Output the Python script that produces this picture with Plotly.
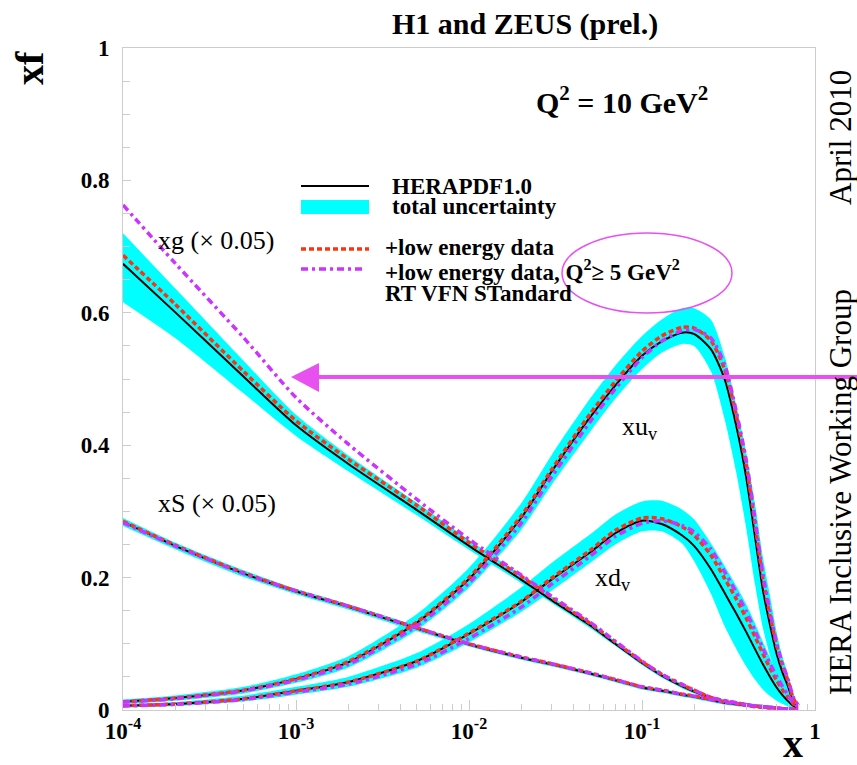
import plotly.graph_objects as go

# ---------------------------------------------------------------
# HERAPDF1.0 parton densities at Q^2 = 10 GeV^2
# ---------------------------------------------------------------
x_grid = [1e-4, 2e-4, 5e-4, 1e-3, 2e-3, 5e-3, 0.01, 0.02, 0.03, 0.05, 0.07,
          0.1, 0.13, 0.17, 0.2, 0.25, 0.3, 0.35, 0.4, 0.45, 0.5, 0.55, 0.6,
          0.65, 0.7, 0.75, 0.8]

# gluon (scaled by 0.05)
xg_central = [0.674, 0.601, 0.503, 0.430, 0.372, 0.302, 0.248, 0.197, 0.166, 0.128, 0.100,
              0.071, 0.052, 0.036, 0.028, 0.018, 0.013, 0.010, 0.008, 0.006, 0.005, 0.004,
              0.003, 0.002, 0.002, 0.001, 0.000]
xg_lo = [0.616, 0.562, 0.478, 0.414, 0.361, 0.294, 0.242, 0.192, 0.162, 0.124, 0.097,
         0.068, 0.049, 0.033, 0.025, 0.015, 0.010, 0.007, 0.005, 0.003, 0.002, 0.001,
         0.001, 0.000, 0.000, 0.000, 0.000]
xg_hi = [0.720, 0.637, 0.527, 0.446, 0.385, 0.313, 0.257, 0.204, 0.172, 0.133, 0.104,
         0.075, 0.056, 0.040, 0.031, 0.021, 0.016, 0.013, 0.011, 0.009, 0.008, 0.007,
         0.005, 0.004, 0.003, 0.002, 0.001]
xg_lowe = [0.687, 0.613, 0.511, 0.437, 0.379, 0.309, 0.253, 0.202, 0.170, 0.131, 0.103,
           0.073, 0.054, 0.038, 0.030, 0.019, 0.014, 0.011, 0.008, 0.006, 0.005, 0.004,
           0.003, 0.002, 0.002, 0.001, 0.000]
xg_q5 = [0.763, 0.675, 0.562, 0.472, 0.402, 0.318, 0.258, 0.204, 0.172, 0.133, 0.104,
         0.074, 0.054, 0.039, 0.030, 0.019, 0.014, 0.011, 0.008, 0.006, 0.005, 0.004,
         0.003, 0.002, 0.002, 0.001, 0.000]

# sea (scaled by 0.05)
xS_central = [0.284, 0.248, 0.206, 0.179, 0.156, 0.123, 0.099, 0.079, 0.069, 0.055, 0.045,
              0.034, 0.029, 0.023, 0.020, 0.015, 0.011, 0.009, 0.007, 0.005, 0.004, 0.003,
              0.003, 0.002, 0.001, 0.001, 0.000]
xS_lo = [0.278, 0.243, 0.201, 0.175, 0.152, 0.119, 0.096, 0.076, 0.066, 0.052, 0.042,
         0.031, 0.026, 0.020, 0.017, 0.012, 0.008, 0.006, 0.004, 0.003, 0.002, 0.001,
         0.001, 0.000, 0.000, 0.000, 0.000]
xS_hi = [0.290, 0.253, 0.211, 0.183, 0.160, 0.127, 0.102, 0.082, 0.072, 0.058, 0.048,
         0.037, 0.032, 0.026, 0.023, 0.018, 0.014, 0.012, 0.010, 0.008, 0.007, 0.006,
         0.005, 0.004, 0.003, 0.002, 0.001]
xS_lowe = [0.285, 0.249, 0.207, 0.180, 0.157, 0.124, 0.100, 0.080, 0.070, 0.056, 0.046,
           0.035, 0.030, 0.024, 0.021, 0.016, 0.012, 0.009, 0.007, 0.005, 0.004, 0.003,
           0.003, 0.002, 0.001, 0.001, 0.000]
xS_q5 = [0.283, 0.248, 0.206, 0.180, 0.157, 0.124, 0.100, 0.080, 0.070, 0.056, 0.046,
         0.035, 0.030, 0.024, 0.021, 0.016, 0.012, 0.010, 0.008, 0.006, 0.005, 0.004,
         0.003, 0.002, 0.001, 0.001, 0.000]

# u valence
xuv_central = [0.0125, 0.018, 0.030, 0.047, 0.072, 0.132, 0.198, 0.290, 0.360, 0.442, 0.490,
               0.535, 0.557, 0.570, 0.568, 0.545, 0.500, 0.430, 0.352, 0.262, 0.181, 0.128,
               0.085, 0.056, 0.035, 0.012, 0.004]
xuv_lo = [0.009, 0.014, 0.025, 0.041, 0.064, 0.121, 0.185, 0.272, 0.340, 0.420, 0.470,
          0.515, 0.540, 0.553, 0.550, 0.512, 0.440, 0.360, 0.275, 0.190, 0.124, 0.082,
          0.053, 0.031, 0.020, 0.008, 0.002]
xuv_hi = [0.016, 0.022, 0.035, 0.054, 0.081, 0.145, 0.215, 0.312, 0.385, 0.470, 0.520,
          0.565, 0.590, 0.607, 0.607, 0.590, 0.535, 0.462, 0.390, 0.312, 0.231, 0.172,
          0.118, 0.080, 0.053, 0.025, 0.009]
xuv_lowe = [0.0125, 0.018, 0.030, 0.047, 0.073, 0.133, 0.200, 0.293, 0.363, 0.447, 0.496,
            0.542, 0.565, 0.578, 0.577, 0.558, 0.515, 0.445, 0.370, 0.280, 0.198, 0.142,
            0.097, 0.066, 0.043, 0.017, 0.006]
xuv_q5 = [0.012, 0.017, 0.029, 0.045, 0.069, 0.127, 0.192, 0.282, 0.352, 0.435, 0.485,
          0.532, 0.557, 0.573, 0.575, 0.562, 0.522, 0.452, 0.378, 0.288, 0.205, 0.148,
          0.101, 0.069, 0.046, 0.019, 0.007]

# d valence
xdv_central = [0.0065, 0.009, 0.017, 0.029, 0.042, 0.074, 0.115, 0.163, 0.197, 0.238, 0.267,
               0.286, 0.281, 0.264, 0.248, 0.213, 0.177, 0.146, 0.118, 0.092, 0.069, 0.050,
               0.034, 0.022, 0.013, 0.006, 0.002]
xdv_lo = [0.004, 0.006, 0.013, 0.023, 0.035, 0.064, 0.102, 0.148, 0.180, 0.222, 0.250,
          0.270, 0.270, 0.252, 0.225, 0.176, 0.127, 0.093, 0.066, 0.046, 0.031, 0.021,
          0.014, 0.009, 0.005, 0.002, 0.001]
xdv_hi = [0.009, 0.012, 0.022, 0.035, 0.050, 0.086, 0.130, 0.185, 0.222, 0.265, 0.295,
          0.315, 0.316, 0.303, 0.288, 0.252, 0.218, 0.188, 0.160, 0.131, 0.103, 0.079,
          0.057, 0.038, 0.024, 0.011, 0.004]
xdv_lowe = [0.0065, 0.009, 0.017, 0.029, 0.042, 0.074, 0.116, 0.164, 0.199, 0.241, 0.271,
            0.290, 0.289, 0.277, 0.264, 0.234, 0.199, 0.168, 0.139, 0.111, 0.085, 0.063,
            0.045, 0.030, 0.019, 0.009, 0.003]
xdv_q5 = [0.006, 0.0085, 0.016, 0.027, 0.039, 0.069, 0.108, 0.155, 0.190, 0.232, 0.262,
          0.282, 0.286, 0.279, 0.269, 0.243, 0.209, 0.178, 0.149, 0.120, 0.093, 0.070,
          0.051, 0.035, 0.022, 0.011, 0.004]

x_tick_vals = [1e-4, 1e-3, 1e-2, 1e-1, 1]
x_tick_text = ["10<sup>-4</sup>", "10<sup>-3</sup>", "10<sup>-2</sup>", "10<sup>-1</sup>", "1"]
y_tick_vals = [0, 0.2, 0.4, 0.6, 0.8, 1.0]
y_tick_text = ["0", "0.2", "0.4", "0.6", "0.8", "1"]

# ---------------------------------------------------------------
W, H = 857, 765
L, R, T, B = 123, 42, 48, 55
PW, PH = W - L - R, H - T - B

def px(xp):
    return (xp - L) / PW

def py(yp):
    return (H - B - yp) / PH

SERIF = "Liberation Serif, Times New Roman, serif"
BAND = "#00ffff"
RED = "#ff3311"
MAG = "#cc33ff"
PINK = "#e850f0"
SPL = dict(shape="spline", smoothing=0.7)

fig = go.Figure()

bands = [(xg_lo, xg_hi), (xS_lo, xS_hi), (xuv_lo, xuv_hi), (xdv_lo, xdv_hi)]
for lo, hi in bands:
    fig.add_trace(go.Scatter(x=x_grid, y=lo, mode="lines",
                             line=dict(width=0, **SPL),
                             hoverinfo="skip", showlegend=False))
    fig.add_trace(go.Scatter(x=x_grid, y=hi, mode="lines", fill="tonexty",
                             fillcolor=BAND, line=dict(width=0, **SPL),
                             hoverinfo="skip", showlegend=False))

for c in [xg_central, xS_central, xuv_central, xdv_central]:
    fig.add_trace(go.Scatter(x=x_grid, y=c, mode="lines",
                             line=dict(color="black", width=2, **SPL),
                             showlegend=False))

for c in [xg_lowe, xS_lowe, xuv_lowe, xdv_lowe]:
    fig.add_trace(go.Scatter(x=x_grid, y=c, mode="lines",
                             line=dict(color=RED, width=3.5, dash="5px,3px", **SPL),
                             showlegend=False))

for c in [xg_q5, xS_q5, xuv_q5, xdv_q5]:
    fig.add_trace(go.Scatter(x=x_grid, y=c, mode="lines",
                             line=dict(color=MAG, width=3.5, dash="7px,4px,3px,4px", **SPL),
                             showlegend=False))

minor_x = [m * 10 ** e for e in range(-4, 0) for m in range(2, 10)]
TICKFONT = dict(family=SERIF, size=23, color="black", weight="bold")

fig.update_xaxes(type="log", range=[-4, 0], showgrid=False, zeroline=False,
                 showline=True, mirror=True, linecolor="#cccccc", linewidth=1,
                 ticks="inside", ticklen=10, tickcolor="#cccccc",
                 tickvals=x_tick_vals, ticktext=x_tick_text, tickfont=TICKFONT,
                 ticklabelstandoff=0,
                 minor=dict(tickvals=minor_x, ticks="inside", ticklen=6,
                            tickcolor="#cccccc", showgrid=False))
fig.update_yaxes(range=[0, 1], showgrid=False, zeroline=False,
                 showline=True, mirror=True, linecolor="#cccccc", linewidth=1,
                 ticks="inside", ticklen=8, tickcolor="#cccccc",
                 tickvals=y_tick_vals, ticktext=y_tick_text, tickfont=TICKFONT,
                 ticklabelstandoff=8,
                 minor=dict(dtick=0.05, ticks="inside", ticklen=7,
                            tickcolor="#cccccc", showgrid=False))

shapes = []
# legend symbols
shapes.append(dict(type="line", xref="paper", yref="paper",
                   x0=px(301), x1=px(369), y0=py(186), y1=py(186),
                   line=dict(color="black", width=2)))
shapes.append(dict(type="rect", xref="paper", yref="paper",
                   x0=px(301), x1=px(369), y0=py(200), y1=py(214),
                   fillcolor=BAND, line=dict(width=0)))
shapes.append(dict(type="line", xref="paper", yref="paper",
                   x0=px(301), x1=px(369), y0=py(249), y1=py(249),
                   line=dict(color=RED, width=3.5, dash="5px,3px")))
shapes.append(dict(type="line", xref="paper", yref="paper",
                   x0=px(301), x1=px(363), y0=py(269), y1=py(269),
                   line=dict(color=MAG, width=3.5, dash="7px,4px,3px,4px")))
# highlight ellipse
shapes.append(dict(type="circle", xref="paper", yref="paper",
                   x0=px(562), x1=px(732), y0=py(313), y1=py(233),
                   line=dict(color=PINK, width=1.5)))
# arrow
shapes.append(dict(type="line", xref="paper", yref="paper",
                   x0=px(318), x1=px(860), y0=py(377), y1=py(377),
                   line=dict(color=PINK, width=4)))
shapes.append(dict(type="path", xref="paper", yref="paper",
                   path="M %f,%f L %f,%f L %f,%f Z" % (px(291), py(377), px(319), py(363),
                                                       px(319), py(392)),
                   fillcolor=PINK, line=dict(width=0)))

ann = []

def text(xp, yp, s, size, bold=False, anchor="center", angle=0):
    ann.append(dict(xref="paper", yref="paper", x=px(xp), y=py(yp), text=s,
                    showarrow=False, xanchor=anchor, yanchor="middle", textangle=angle,
                    font=dict(family=SERIF, size=size, color="black",
                              weight="bold" if bold else "normal")))

text(525, 24, "H1 and ZEUS (prel.)", 30, bold=True)
text(622, 100, "Q<sup>2</sup> = 10 GeV<sup>2</sup>", 30, bold=True)
text(390, 187, "HERAPDF1.0", 23, bold=True, anchor="left")
text(390, 206, "total uncertainty", 23, bold=True, anchor="left")
text(383, 247, "+low energy data", 23, bold=True, anchor="left")
text(383, 270, "+low energy data, Q<sup>2</sup>\u2265 5 GeV<sup>2</sup>", 23, bold=True, anchor="left")
text(383, 293, "RT VFN STandard", 23, bold=True, anchor="left")
text(216, 240, "xg (\u00d7 0.05)", 26)
text(217, 503, "xS (\u00d7 0.05)", 26)
text(640, 428, "xu<sub>v</sub>", 26)
text(613, 579, "xd<sub>v</sub>", 26)
text(30, 68, "xf", 40, bold=True, angle=-90)
text(793, 743, "x", 40, bold=True)
text(840, 138, "April 2010", 31, angle=-90)
text(840, 492, "HERA Inclusive Working Group", 31, angle=-90)

fig.update_layout(width=W, height=H, margin=dict(l=L, r=R, t=T, b=B),
                  plot_bgcolor="white", paper_bgcolor="white",
                  showlegend=False, shapes=shapes, annotations=ann)

fig.write_html("out.html")
